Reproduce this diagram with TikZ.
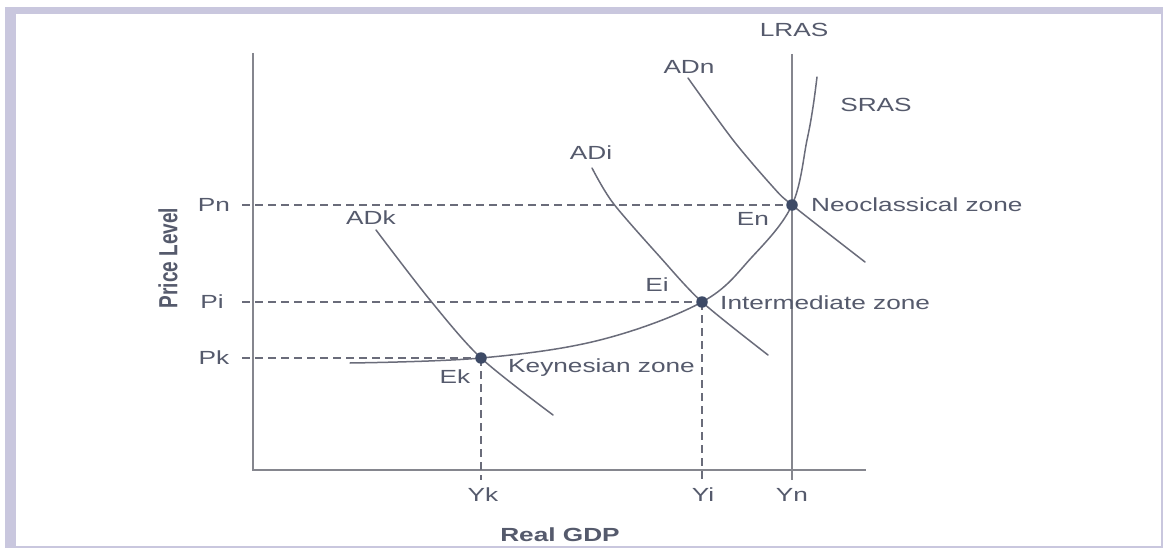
\documentclass[tikz,border=0pt]{standalone}
\usepackage{fontspec}
\setmainfont{Liberation Sans}
\usepackage{graphicx}
\definecolor{frame}{HTML}{C9C7DE}
\definecolor{txt}{HTML}{555A6C}
\definecolor{ln}{HTML}{6A6C7A}
\definecolor{axc}{HTML}{85868E}
\definecolor{dot}{HTML}{3D4A66}
\newcommand{\sx}[1]{\scalebox{1.38}[1]{#1}}
\tikzset{
  lbl/.style={text=txt, inner sep=0pt, font=\fontsize{19}{22}\selectfont},
  curve/.style={draw=ln, line width=1.5pt, line cap=round},
  axisline/.style={draw=axc, line width=2pt},
  guide/.style={draw=ln, line width=1.2pt, dash pattern=on 8pt off 5pt},
  eqdot/.style={circle, fill=dot, minimum size=11.5pt, inner sep=0pt},
}
\begin{document}
\begin{tikzpicture}[x=1pt, y=-1pt]
\useasboundingbox (0,0) rectangle (1166,548);
% frame
\fill[frame] (5,7) rectangle (1163,548);
\fill[white] (16,14) rectangle (1161,546);
% axes
\coordinate (O) at (253,470);
\coordinate (Ytop) at (253,53);
\coordinate (Xend) at (866,470);
\draw[axisline] (Ytop) -- (O) -- (Xend);
% equilibrium points
\coordinate (Ek) at (481,358);
\coordinate (Ei) at (702,302);
\coordinate (En) at (792,205);
% LRAS
\coordinate (LRtop) at (792,54);
\coordinate (LRbot) at (792,480);
\draw[axisline, line width=1.8pt] (LRtop) -- (LRbot);
% guides
\coordinate (Pn0) at (242,205);
\coordinate (Pi0) at (242,302);
\coordinate (Pk0) at (242,358);
\coordinate (Yk0) at (481,480);
\coordinate (Yi0) at (702,480);
\draw[guide] (Pn0) -- (En);
\draw[guide] (Pi0) -- (Ei);
\draw[guide] (Pk0) -- (Ek);
\draw[guide] (Ek) -- (Yk0);
\draw[guide] (Ei) -- (Yi0);
% SRAS
\draw[curve] plot[smooth, tension=0.6] coordinates {(350,363) (481,358) (600,340) (702,302) (752,257) (792,205) (807,140) (813,107) (817,77)};
% AD curves
\draw[curve] plot[smooth] coordinates {(376,230) (430,300) (481,358) (553,415)};
\draw[curve] plot[smooth] coordinates {(592,168) (613,203) (660,257) (702,302) (768,355)};
\draw[curve] plot[smooth] coordinates {(688,78) (733,140) (773,187) (792,205) (865,262)};
% dots
\node[eqdot] (dEk) at (Ek) {};
\node[eqdot] (dEi) at (Ei) {};
\node[eqdot] (dEn) at (En) {};
% labels
\node[lbl] (lLRAS) at (794,30) {\sx{LRAS}};
\node[lbl] (lADn) at (689,67) {\sx{ADn}};
\node[lbl] (lSRAS) at (876,105) {\sx{SRAS}};
\node[lbl] (lADi) at (591,153) {\sx{ADi}};
\node[lbl] (lADk) at (371,218) {\sx{ADk}};
\node[lbl] (lPn) at (214,205) {\sx{Pn}};
\node[lbl] (lPi) at (212,302) {\sx{Pi}};
\node[lbl] (lPk) at (214,358) {\sx{Pk}};
\node[lbl] (lEn) at (753,219) {\sx{En}};
\node[lbl] (lEi) at (657,285) {\sx{Ei}};
\node[lbl] (lEk) at (455,377) {\sx{Ek}};
\node[lbl, anchor=west] (lNeo) at (811,205) {\sx{Neoclassical zone}};
\node[lbl, anchor=west] (lInt) at (720,303) {\sx{Intermediate zone}};
\node[lbl, anchor=west] (lKey) at (508,368) {\sx{Keynesian zone}};
\node[lbl] (lYk) at (483,495) {\sx{Yk}};
\node[lbl] (lYi) at (703,495) {\sx{Yi}};
\node[lbl] (lYn) at (792,495) {\sx{Yn}};
\node[lbl, font=\fontsize{19}{22}\selectfont\bfseries] (lGDP) at (560,535) {\sx{Real GDP}};
\node[lbl, font=\fontsize{19}{22}\selectfont\bfseries, rotate=90] (lPL) at (168,258) {\scalebox{1}[1.38]{Price Level}};
\end{tikzpicture}
\end{document}
